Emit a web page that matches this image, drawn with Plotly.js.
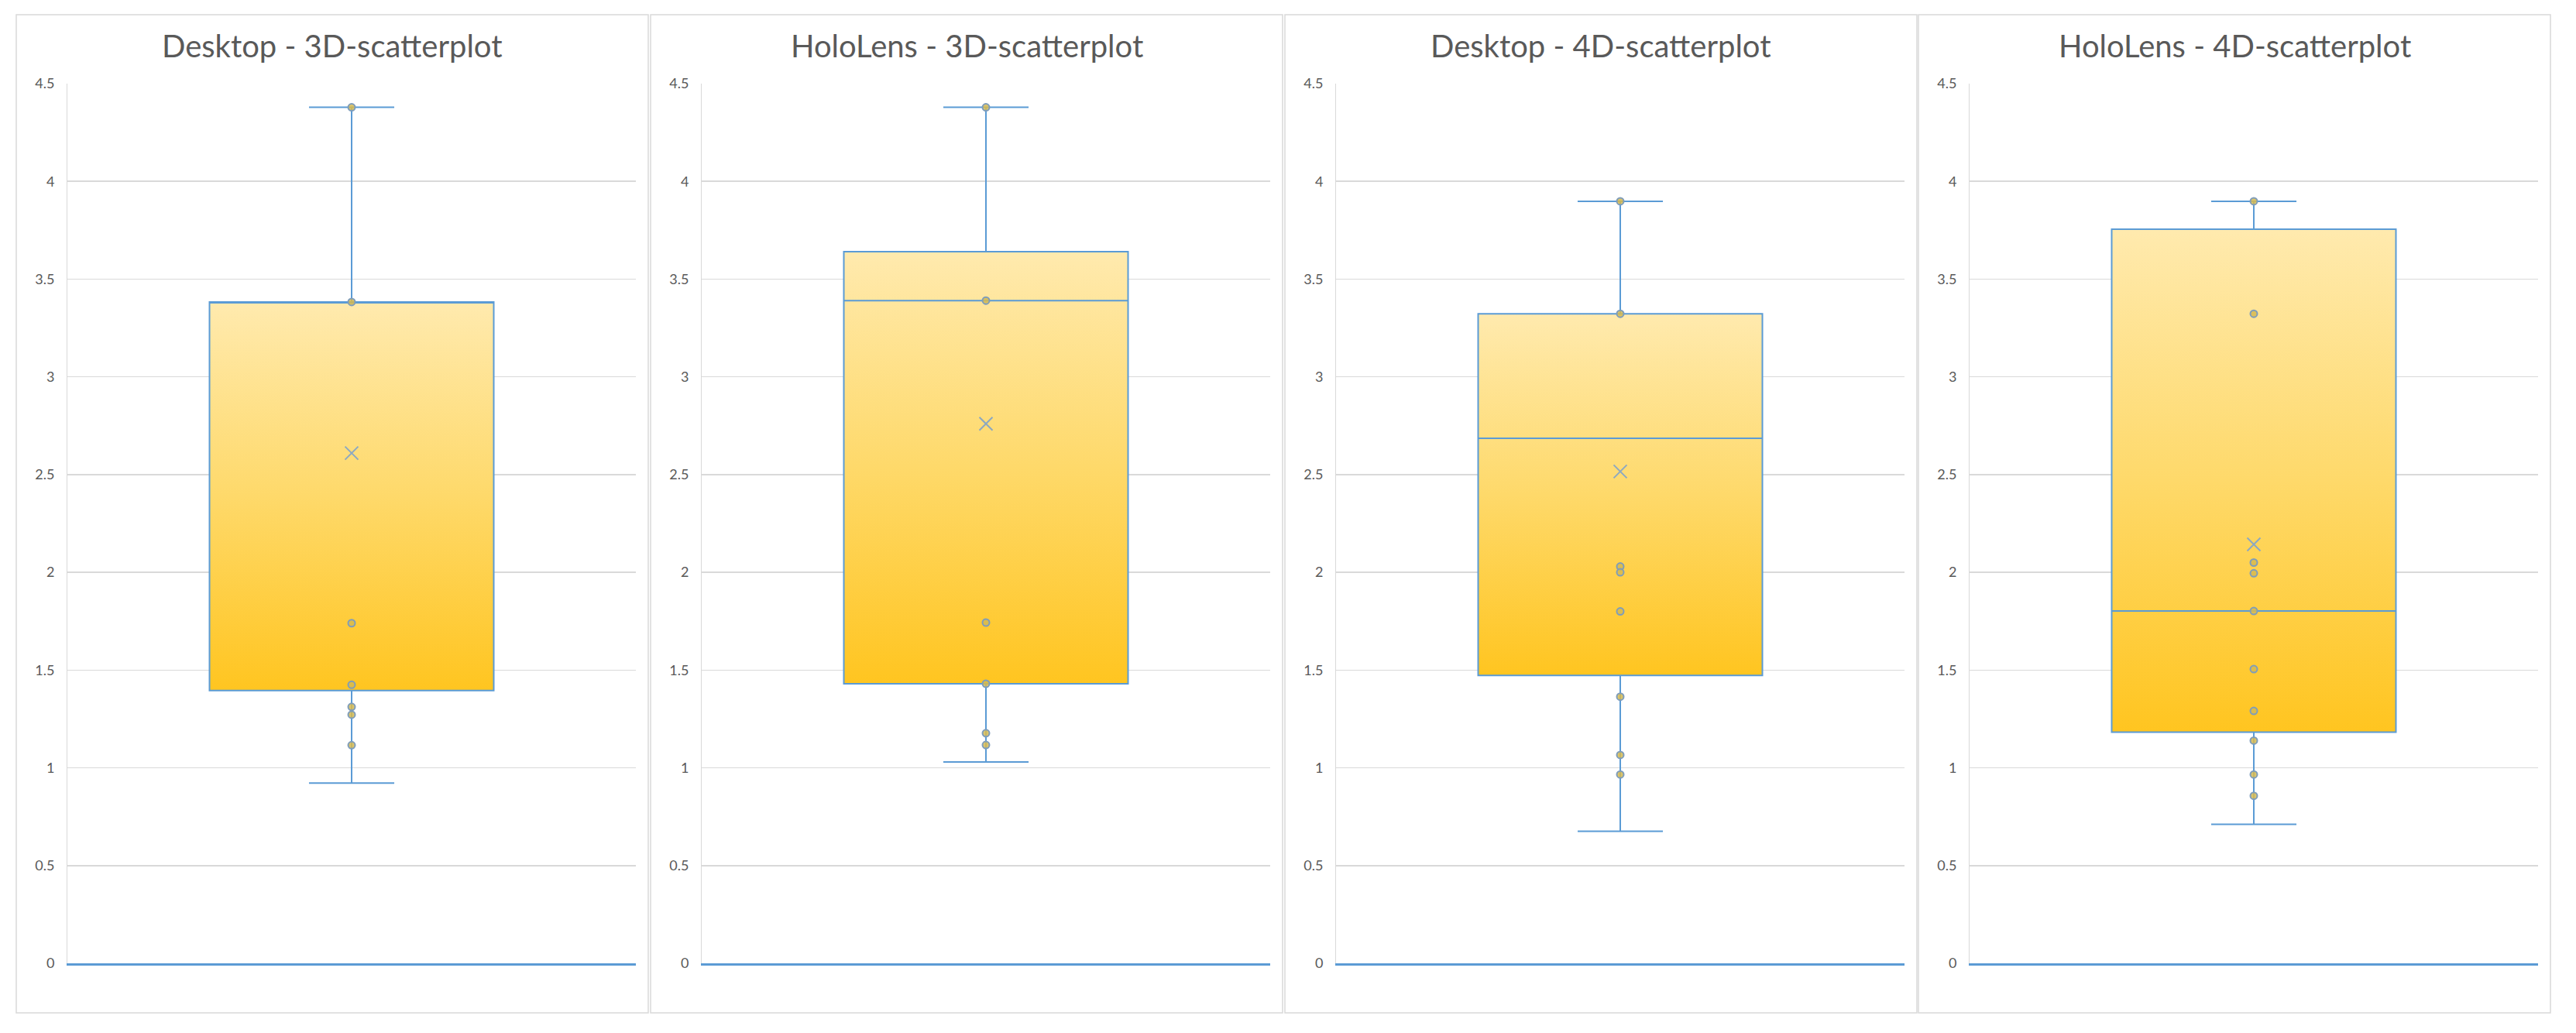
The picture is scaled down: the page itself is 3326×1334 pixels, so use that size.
<!DOCTYPE html>
<html>
<head>
<meta charset="utf-8">
<script src="https://cdn.plot.ly/plotly-3.0.1.min.js"></script>
<style>html,body{margin:0;padding:0;background:#fff;}#chart{width:3326px;height:1334px;}</style>
</head>
<body>
<div id="chart"></div>
<script>
// ---------- data ----------
const titles = ['Desktop - 3D-scatterplot', 'HoloLens - 3D-scatterplot', 'Desktop - 4D-scatterplot', 'HoloLens - 4D-scatterplot'];
const q1Values = [1.395, 1.43, 1.473, 1.182];
const medianValues = [3.383, 3.39, 2.686, 1.802];
const q3Values = [3.383, 3.64, 3.323, 3.755];
const lowerWhisker = [0.922, 1.03, 0.675, 0.711];
const upperWhisker = [4.379, 4.379, 3.898, 3.898];
const meanValues = [2.61, 2.76, 2.516, 2.143];
const pointsDesktop3D = [4.379, 3.383, 1.74, 1.425, 1.312, 1.272, 1.116];
const pointsHoloLens3D = [4.379, 3.39, 1.743, 1.43, 1.177, 1.117];
const pointsDesktop4D = [3.898, 3.323, 2.03, 2.0, 1.80, 1.364, 1.066, 0.966];
const pointsHoloLens4D = [3.898, 3.323, 2.05, 1.995, 1.802, 1.505, 1.291, 1.139, 0.966, 0.857];
const pointSets = [pointsDesktop3D, pointsHoloLens3D, pointsDesktop4D, pointsHoloLens4D];
const yTickValues = [0, 0.5, 1, 1.5, 2, 2.5, 3, 3.5, 4, 4.5];

// ---------- layout geometry (pixels) ----------
const W = 3326, H = 1334;
const panelLeft = [21, 840, 1659, 2477];
const panelW = 816;
const frameTop = 19, frameBottom = 1308;
const plotLeftOff = 66, plotRightOff = 16;
const plotTop = 108, plotBottom = 1244;
const halfBox = 0.5; // box half-width in x data units (x range -1..1)

const BLUE = '#5B9BD5';
const MARK = '#7F9DBA';
const TEXT = '#595959';
const GRID = '#D9D9D9';

const traces = [];
const layout = {
  width: W, height: H,
  margin: {l: 0, r: 0, t: 0, b: 0},
  paper_bgcolor: '#ffffff', plot_bgcolor: 'rgba(0,0,0,0)',
  showlegend: false,
  annotations: [], shapes: []
};

for (let i = 0; i < 4; i++) {
  const n = i + 1, m = i + 5;
  const xb = n === 1 ? 'x' : 'x' + n, yb = n === 1 ? 'y' : 'y' + n;
  const xo = 'x' + m, yo = 'y' + m;
  const L = panelLeft[i];
  const dx = [(L + plotLeftOff) / W, (L + panelW - plotRightOff) / W];
  const dy = [1 - plotBottom / H, 1 - plotTop / H];

  layout['xaxis' + (n === 1 ? '' : n)] = {
    domain: dx, range: [-1, 1], anchor: yb, fixedrange: true,
    showgrid: false, zeroline: false, showticklabels: false, ticks: '',
    showline: true, linecolor: BLUE, linewidth: 2.5
  };
  layout['yaxis' + (n === 1 ? '' : n)] = {
    domain: dy, range: [0, 4.5], anchor: xb, fixedrange: true,
    tickvals: yTickValues, ticktext: yTickValues.map(v => String(v)),
    showgrid: true, gridcolor: GRID, gridwidth: 1.5,
    zeroline: false, ticks: '', ticklabelstandoff: 12,
    showline: true, linecolor: GRID, linewidth: 1,
    tickfont: {family: 'Lato, "Open Sans", sans-serif', size: 18, color: TEXT}
  };
  layout['xaxis' + m] = {overlaying: xb, anchor: yo, range: [-1, 1], visible: false, fixedrange: true};
  layout['yaxis' + m] = {overlaying: yb, anchor: xo, range: [0, 4.5], visible: false, fixedrange: true};

  // gradient box body
  traces.push({
    type: 'scatter', xaxis: xb, yaxis: yb, mode: 'none', hoverinfo: 'skip',
    x: [-halfBox, halfBox, halfBox, -halfBox, -halfBox],
    y: [q1Values[i], q1Values[i], q3Values[i], q3Values[i], q1Values[i]],
    fill: 'toself',
    fillgradient: {
      type: 'vertical', start: q1Values[i], stop: q3Values[i],
      colorscale: [[0, '#FFC520'], [0.5, '#FED96A'], [1, '#FFEAAE']]
    }
  });
  // box outline, median, whiskers
  traces.push({
    type: 'box', xaxis: xo, yaxis: yo, x: [0],
    q1: [q1Values[i]], median: [medianValues[i]], q3: [q3Values[i]],
    lowerfence: [lowerWhisker[i]], upperfence: [upperWhisker[i]],
    width: 2 * halfBox, whiskerwidth: 0.3, boxpoints: false,
    fillcolor: 'rgba(0,0,0,0)', line: {color: BLUE, width: 2}
  });
  // data points
  traces.push({
    type: 'scatter', xaxis: xo, yaxis: yo, mode: 'markers',
    x: pointSets[i].map(() => 0), y: pointSets[i],
    marker: {symbol: 'circle', size: 9, color: 'rgba(214,186,80,0.85)', line: {color: MARK, width: 2}}
  });
  // mean
  traces.push({
    type: 'scatter', xaxis: xo, yaxis: yo, mode: 'markers',
    x: [0], y: [meanValues[i]],
    marker: {symbol: 'x-thin-open', size: 17, color: '#8CA8C2', line: {color: '#8CA8C2', width: 2}}
  });

  // frame
  layout.shapes.push({
    type: 'rect', xref: 'paper', yref: 'paper', layer: 'below',
    x0: L / W, x1: (L + panelW) / W, y0: 1 - frameBottom / H, y1: 1 - frameTop / H,
    line: {color: GRID, width: 1.5}, fillcolor: 'rgba(0,0,0,0)'
  });
  // title
  layout.annotations.push({
    xref: 'paper', yref: 'paper', x: (L + panelW / 2) / W, y: 1 - 59 / H,
    xanchor: 'center', yanchor: 'middle', showarrow: false,
    text: titles[i],
    font: {family: 'Lato, "Open Sans", sans-serif', size: 40, color: TEXT, weight: 400}
  });
}

Plotly.newPlot('chart', traces, layout, {staticPlot: true});
</script>
</body>
</html>
